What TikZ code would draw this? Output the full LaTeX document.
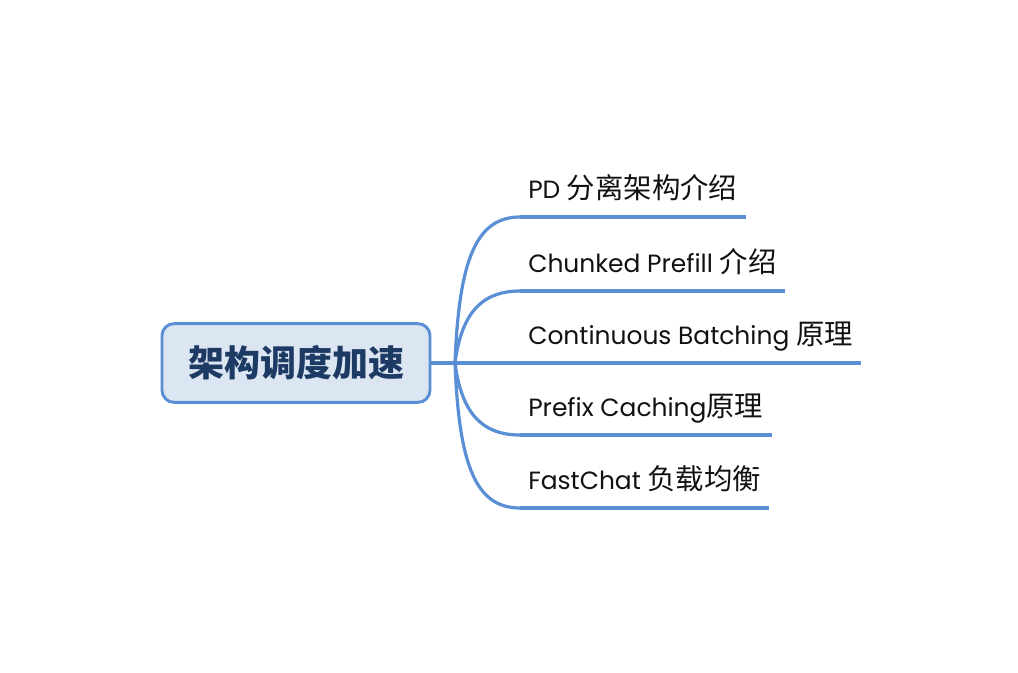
\documentclass[tikz,border=0pt]{standalone}
\usepackage{fontspec}
\setmainfont{Poppins}
\newfontfamily\cjk{Noto Sans CJK SC}
\usetikzlibrary{positioning}
\definecolor{branchblue}{HTML}{5A8ED5}
\definecolor{rootfill}{HTML}{DCE6F2}
\definecolor{roottext}{HTML}{1C3A63}
\definecolor{topictext}{HTML}{111111}
\newcommand{\zh}[1]{{\cjk\fontsize{21.3}{24}\selectfont #1}}
\tikzstyle{root} = [rectangle, rounded corners=9pt, minimum width=201pt, minimum height=59pt, draw=branchblue, line width=2.2pt, fill=rootfill, text=roottext, font=\cjk\bfseries\fontsize{27}{30}\selectfont]
\tikzstyle{topic} = [anchor=south west, inner xsep=6pt, inner ysep=14pt, text depth=0pt, text=topictext, font=\fontsize{18.7}{22}\selectfont]
\tikzstyle{branch} = [draw=branchblue, line width=2.4pt]
\tikzstyle{underline} = [draw=branchblue, line width=3.4pt]

\begin{document}
\begin{tikzpicture}[x=0.75pt, y=-0.75pt]
\useasboundingbox (0,0) rectangle (1018,672);
\node (root) [root] at (296,363) {架构调度加速};
\coordinate (hub) at (455,363);
\node (pd) [topic] at (520,217) {PD \zh{分离架构介绍}};
\node (chunk) [topic] at (520,291) {Chunked Prefill \zh{介绍}};
\node (cont) [topic] at (520,363) {Continuous Batching \zh{原理}};
\node (prefix) [topic] at (520,435) {Prefix Caching\zh{原理}};
\node (fast) [topic] at (520,508) {FastChat \zh{负载均衡}};
% root to hub
\draw [branch] (root.east) -- (hub);
% branches
\draw [branch] (hub) .. controls (459,260) and (476,217) .. (pd.south west);
\draw [branch] (hub) .. controls (461,318) and (478,291) .. (chunk.south west);
\draw [branch] (hub) -- (cont.south west);
\draw [branch] (hub) .. controls (461,408) and (478,435) .. (prefix.south west);
\draw [branch] (hub) .. controls (459,466) and (476,508) .. (fast.south west);
% underlines
\draw [underline] (pd.south west) -- (pd.south east);
\draw [underline] (chunk.south west) -- (chunk.south east);
\draw [underline] (cont.south west) -- (cont.south east);
\draw [underline] (prefix.south west) -- (prefix.south east);
\draw [underline] (fast.south west) -- (fast.south east);
\end{tikzpicture}
\end{document}
